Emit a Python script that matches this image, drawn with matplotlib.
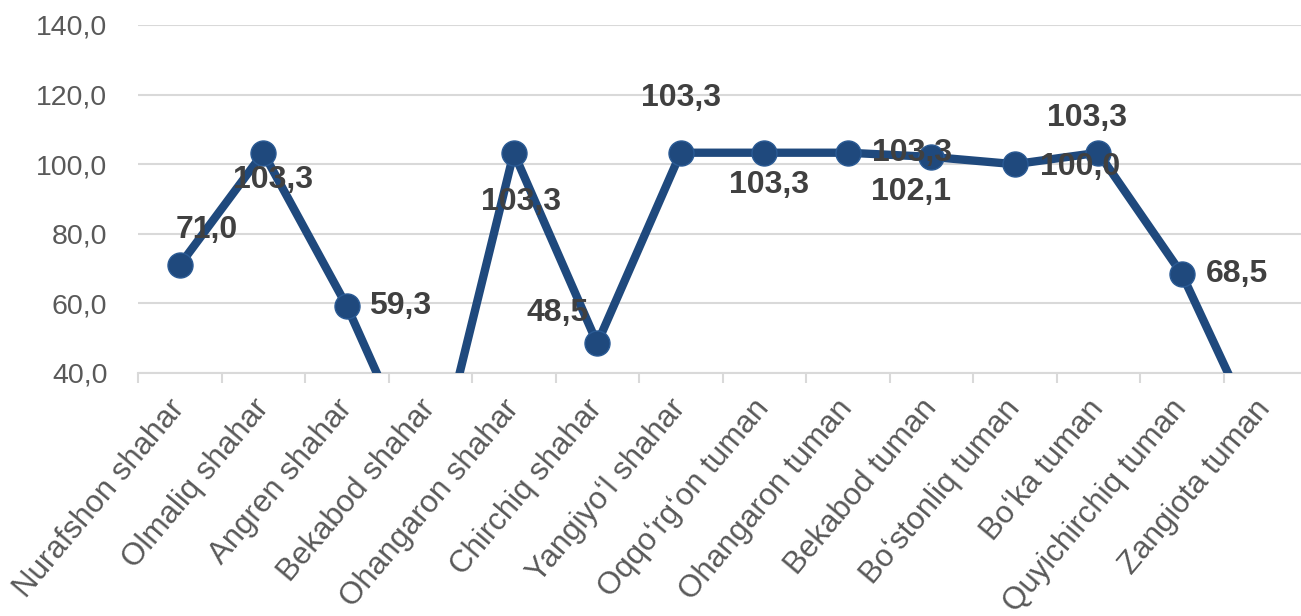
import matplotlib
matplotlib.use('Agg')
import matplotlib.pyplot as plt
from matplotlib.ticker import FuncFormatter, MultipleLocator, FixedLocator

plt.rcParams['font.family'] = ['Liberation Sans', 'DejaVu Sans']

categories = ['Nurafshon shahar', 'Olmaliq shahar', 'Angren shahar', 'Bekabod shahar',
              'Ohangaron shahar', 'Chirchiq shahar', 'Yangiyoʻl shahar', 'Oqqoʻrgʻon tuman',
              'Ohangaron tuman', 'Bekabod tuman', 'Boʻstonliq tuman', 'Boʻka tuman',
              'Quyichirchiq tuman', 'Zangiota tuman']
values = [71.0, 103.3, 59.3, 5.6, 103.3, 48.5, 103.3, 103.3,
          103.3, 102.1, 100.0, 103.3, 68.5, 17.0]

# label offsets in pixels (dx, dy); None = label falls outside the plot
label_offsets = [(27, 35), (10, -27), (53, 0), None, (7, -49), (-40, 30), (0, 55),
                 (5, -32), (64, 0), (-20, -35), (65, -3), (-11, 35), (55, 0), None]

line_color = '#1F497D'
W, H = 1301, 616
fig = plt.figure(figsize=(W / 100, H / 100), dpi=100)
ax = fig.add_axes([138 / W, (H - 373) / H, (1307 - 138) / W, (373 - 25) / H])

x = list(range(len(categories)))
ax.plot(x, values, color=line_color, lw=6, marker='o', ms=18,
        markerfacecolor=line_color, markeredgecolor='#2A5A94', markeredgewidth=1, zorder=3)

fmt = lambda v: f'{v:.1f}'.replace('.', ',')
for i, v in enumerate(values):
    if label_offsets[i] is None:
        continue
    ax.annotate(fmt(v), (i, v), xytext=label_offsets[i], textcoords='offset pixels',
                ha='center', va='center', fontsize=23, fontweight='bold',
                color='#404040', zorder=4, annotation_clip=False)

ax.set_xlim(-0.5, len(categories) - 0.5)
ax.set_ylim(40, 140)
ax.yaxis.set_major_locator(MultipleLocator(20))
ax.yaxis.set_major_formatter(FuncFormatter(lambda v, p: fmt(v)))
ax.grid(axis='y', color='#D9D9D9', lw=1.5)
ax.set_axisbelow(True)

ax.set_xticks(x)
ax.set_xticklabels(categories, rotation=50, ha='right', va='center', rotation_mode='anchor')
ax.xaxis.set_minor_locator(FixedLocator([i - 0.5 for i in range(len(categories) + 1)]))
ax.tick_params(axis='x', which='major', length=0, pad=22, labelsize=22.5, labelcolor='#595959')
ax.tick_params(axis='x', which='minor', length=7, width=1.5, color='#D9D9D9')
ax.tick_params(axis='y', length=0, pad=22, labelsize=20.5, labelcolor='#595959')

for s in ['top', 'right', 'left']:
    ax.spines[s].set_visible(False)
ax.spines['bottom'].set_color('#D9D9D9')
ax.spines['bottom'].set_linewidth(1.5)

plt.savefig('out.png', dpi=100)
